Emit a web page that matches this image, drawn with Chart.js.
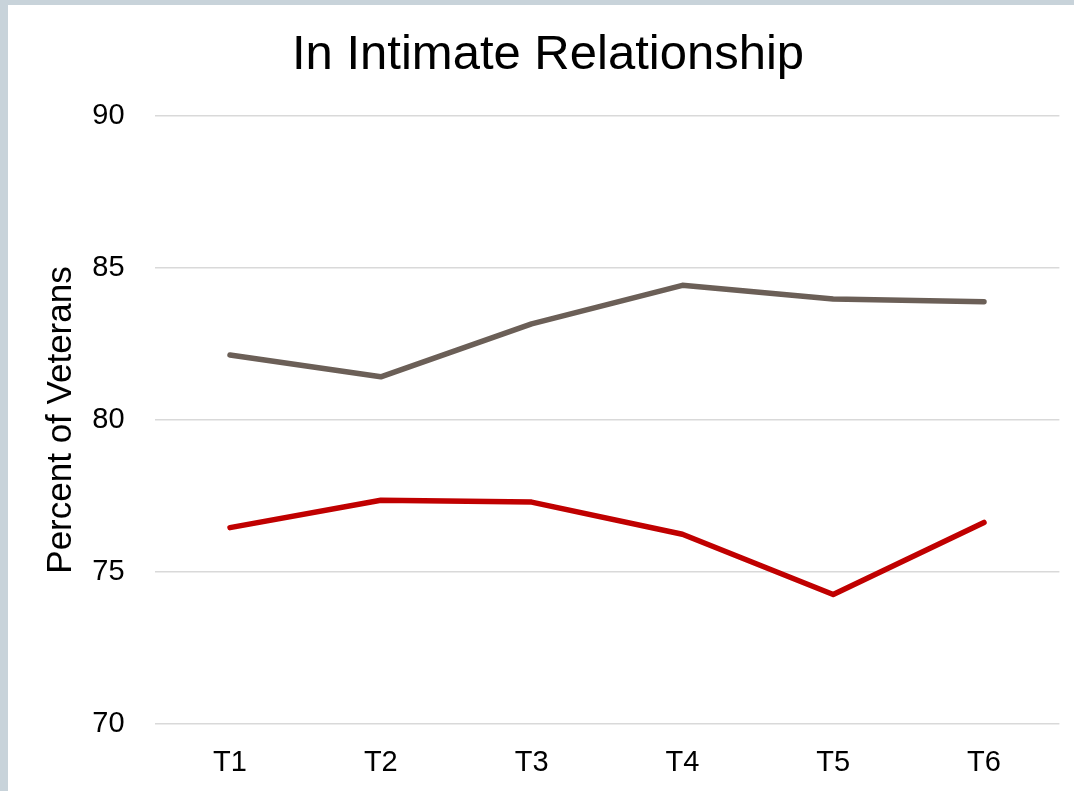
<!DOCTYPE html>
<html lang="en">

<head>
  <meta charset="UTF-8" />
  <title>In Intimate Relationship</title>
  <script src="https://cdn.jsdelivr.net/npm/chart.js"></script>
  <style>
    html, body {
      margin: 0;
      padding: 0;
      background: #c8d3da;
      overflow: hidden;
    }

    .panel {
      position: absolute;
      left: 8px;
      top: 5px;
      width: 1066px;
      height: 786px;
      background: #ffffff;
    }
  </style>
</head>

<body>
  <div class="panel">
    <canvas id="lineChart" width="1066" height="786"></canvas>
  </div>

  <script>
    const timepoints = ["T1", "T2", "T3", "T4", "T5", "T6"];
    const upperSeries = [82.14, 81.42, 83.16, 84.43, 83.98, 83.89];
    const lowerSeries = [76.46, 77.36, 77.30, 76.24, 74.26, 76.63];
    const yTicks = [70, 75, 80, 85, 90];

    const fontFamily = "'Liberation Sans', Arial, sans-serif";

    new Chart(document.getElementById("lineChart"), {
      type: 'line',
      data: {
        labels: timepoints,
        datasets: [{
          label: "Series 1",
          data: upperSeries,
          borderColor: '#6b5f57',
          borderWidth: 5.5,
          pointRadius: 0,
          borderCapStyle: 'round',
          borderJoinStyle: 'round',
          tension: 0
        }, {
          label: "Series 2",
          data: lowerSeries,
          borderColor: '#c00000',
          borderWidth: 5.5,
          pointRadius: 0,
          borderCapStyle: 'round',
          borderJoinStyle: 'round',
          tension: 0
        }]
      },
      options: {
        responsive: false,
        animation: false,
        layout: { padding: { left: 28.6, right: 14.6, top: 0, bottom: 0 } },
        plugins: {
          legend: { display: false },
          tooltip: { enabled: false },
          title: {
            display: true,
            text: "In Intimate Relationship",
            color: '#000000',
            font: { family: fontFamily, size: 49, weight: 'normal', lineHeight: 1.2 },
            padding: { top: 20.6, bottom: 31.6 }
          }
        },
        scales: {
          x: {
            offset: true,
            grid: { display: false, drawTicks: false },
            border: { display: false },
            ticks: {
              color: '#000000',
              padding: 21.6,
              font: { family: fontFamily, size: 29 }
            },
            afterFit: (scale) => { scale.height = 67; }
          },
          y: {
            min: 70,
            max: 90,
            afterBuildTicks: (scale) => { scale.ticks = yTicks.map(v => ({ value: v })); },
            grid: { color: '#d9d9d9', lineWidth: 1.5, drawTicks: false },
            border: { display: false },
            ticks: {
              color: '#000000',
              padding: 30,
              font: { family: fontFamily, size: 29 }
            },
            title: {
              display: true,
              text: "Percent of Veterans",
              color: '#000000',
              font: { family: fontFamily, size: 35 },
              padding: { top: 3.4, bottom: 0 }
            },
            afterFit: (scale) => { scale.width = 118; }
          }
        }
      }
    });
  </script>
</body>

</html>
